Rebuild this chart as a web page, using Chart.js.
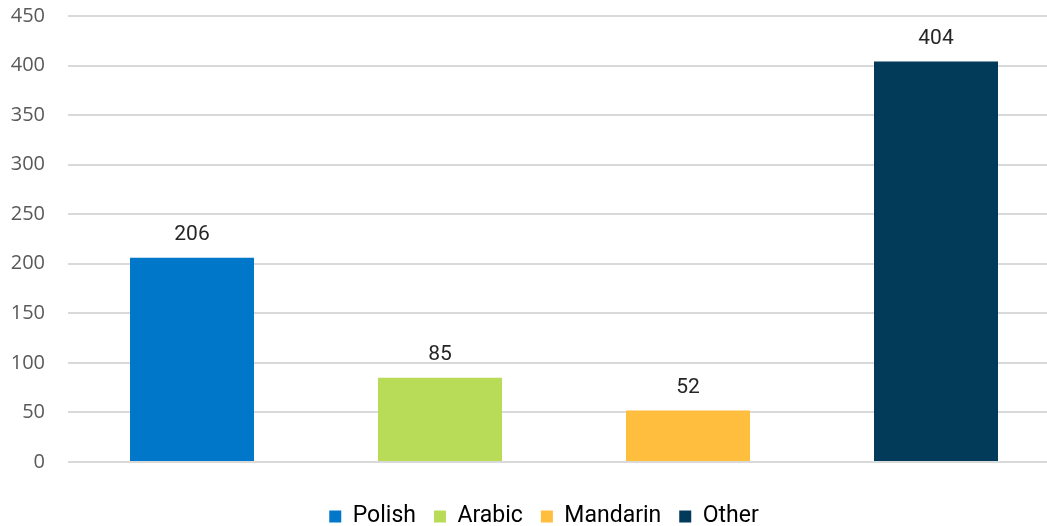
<!DOCTYPE html>
<html>
<head>
<meta charset="utf-8">
<script src="https://cdn.jsdelivr.net/npm/chart.js@4/dist/chart.umd.min.js"></script>
<style>
  html, body { margin: 0; padding: 0; background: #fff; overflow: hidden; }
  #wrap { width: 1060px; height: 526px; }
</style>
</head>
<body>
<div id="wrap"><canvas id="chart"></canvas></div>
<script>
const categories = ["Polish", "Arabic", "Mandarin", "Other"];
const counts = [206, 85, 52, 404];
const barColors = ["#0077c8", "#b8dc58", "#ffbe3d", "#023a5a"];
const yTicks = [0, 50, 100, 150, 200, 250, 300, 350, 400, 450];

// numbers above each bar
const barLabels = {
  id: "barLabels",
  afterDatasetsDraw(chart) {
    const ctx = chart.ctx;
    const meta = chart.getDatasetMeta(0);
    ctx.save();
    ctx.font = "21px Roboto";
    ctx.fillStyle = "#262626";
    ctx.textAlign = "center";
    ctx.textBaseline = "middle";
    meta.data.forEach((bar, i) => {
      ctx.fillText(counts[i], bar.x, bar.y - 23);
    });
    ctx.restore();
  }
};

// nudge the legend a bit right of the canvas centre
const legendShift = {
  id: "legendShift",
  afterLayout(chart) {
    chart.legend.left += 14;
    chart.legend.right += 14;
  }
};

new Chart(document.getElementById("chart").getContext("2d"), {
  type: "bar",
  data: {
    labels: categories,
    datasets: [{
      data: counts,
      backgroundColor: barColors,
      barPercentage: 0.5,
      categoryPercentage: 1
    }]
  },
  options: {
    responsive: true,
    maintainAspectRatio: false,
    animation: false,
    layout: { padding: { top: 16, bottom: -12, left: 0, right: 0 } },
    plugins: {
      tooltip: { enabled: false },
      legend: {
        position: "bottom",
        align: "center",
        labels: {
          boxWidth: 12,
          boxHeight: 12,
          padding: 18,
          color: "#595959",
          font: { family: "Roboto", size: 23 },
          generateLabels: () => categories.map((c, i) => ({
            text: c,
            fillStyle: barColors[i],
            strokeStyle: barColors[i],
            lineWidth: 0,
            index: i
          }))
        }
      }
    },
    scales: {
      x: {
        afterFit: axis => { axis.height = 25; },
        ticks: { display: false },
        grid: { display: false },
        border: { display: false }
      },
      y: {
        min: 0,
        max: 450,
        afterBuildTicks: axis => { axis.ticks = yTicks.map(v => ({ value: v })); },
        afterFit: axis => {
          axis.width = 68;
          axis.paddingTop = 0;
          axis.paddingBottom = 0;
        },
        ticks: {
          color: "#595959",
          padding: 23,
          font: { family: "Open Sans", size: 20 }
        },
        grid: { color: "#d9d9d9", lineWidth: 2, drawTicks: false },
        border: { display: false }
      }
    }
  },
  plugins: [barLabels, legendShift]
});
</script>
</body>
</html>
